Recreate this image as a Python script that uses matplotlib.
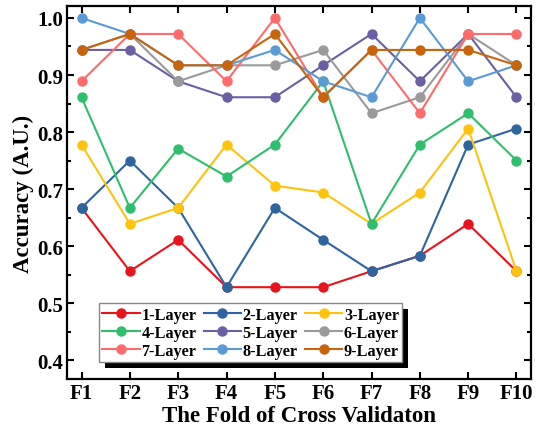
import matplotlib
matplotlib.use("Agg")
import matplotlib.pyplot as plt
from matplotlib.patches import Rectangle
from matplotlib.ticker import MultipleLocator, FormatStrFormatter

folds = ["F1", "F2", "F3", "F4", "F5", "F6", "F7", "F8", "F9", "F10"]
labels = ["1-Layer", "2-Layer", "3-Layer", "4-Layer", "5-Layer",
          "6-Layer", "7-Layer", "8-Layer", "9-Layer"]
layer1 = [0.667, 0.556, 0.611, 0.528, 0.528, 0.528, 0.556, 0.583, 0.639, 0.556]
layer2 = [0.667, 0.750, 0.667, 0.528, 0.667, 0.611, 0.556, 0.583, 0.778, 0.806]
layer3 = [0.778, 0.639, 0.667, 0.778, 0.706, 0.694, 0.639, 0.694, 0.806, 0.556]
layer4 = [0.861, 0.667, 0.771, 0.722, 0.778, 0.889, 0.639, 0.778, 0.833, 0.750]
layer5 = [0.944, 0.944, 0.889, 0.861, 0.861, 0.917, 0.972, 0.889, 0.972, 0.861]
layer6 = [0.944, 0.972, 0.889, 0.917, 0.917, 0.944, 0.833, 0.861, 0.972, 0.917]
layer7 = [0.889, 0.972, 0.972, 0.889, 1.000, 0.861, 0.944, 0.833, 0.972, 0.972]
layer8 = [1.000, 0.972, 0.917, 0.917, 0.944, 0.889, 0.861, 1.000, 0.889, 0.917]
layer9 = [0.944, 0.972, 0.917, 0.917, 0.972, 0.861, 0.944, 0.944, 0.944, 0.917]
series = [layer1, layer2, layer3, layer4, layer5, layer6, layer7, layer8, layer9]
colors = ["#e8141c", "#2e64a0", "#ffc20e", "#2fbf6c", "#6a5fa3",
          "#9a9a9a", "#ff6b6b", "#5b9bd5", "#c8640c"]

plt.rcParams["font.family"] = ["Liberation Serif"]
plt.rcParams["font.weight"] = "bold"

fig = plt.figure(figsize=(5.41, 4.27), dpi=100)
ax = fig.add_axes([67 / 541, 1 - 380 / 427, 464 / 541, 373 / 427])

x = list(range(1, len(folds) + 1))
handles = []
for vals, lab, c in zip(series, labels, colors):
    h, = ax.plot(x, vals, "-o", color=c, lw=1.5, ms=6.5, label=lab)
    handles.append(h)

ax.set_xlim(0.7, 10.3)
ax.set_ylim(0.367, 1.021)
ax.set_xticks(x)
ax.set_xticklabels(folds)
ax.yaxis.set_major_locator(MultipleLocator(0.1))
ax.yaxis.set_minor_locator(MultipleLocator(0.05))
ax.yaxis.set_major_formatter(FormatStrFormatter("%.1f"))
ax.tick_params(axis="both", which="major", direction="in", length=5, width=1.5,
               labelsize=15, top=True, right=True)
ax.tick_params(axis="x", which="major", pad=3)
ax.tick_params(axis="y", which="major", pad=3)
ax.tick_params(axis="y", which="minor", direction="in", length=3, width=1.5,
               right=True, left=True)
for s in ax.spines.values():
    s.set_linewidth(1.6)

ax.set_xlabel("The Fold of Cross Validaton", fontsize=16.5, fontweight="bold", labelpad=1)
ax.set_ylabel("Accuracy (A.U.)", fontsize=16.5, fontweight="bold", labelpad=2)

# row-wise ordering for a 3-column legend
order = [0, 3, 6, 1, 4, 7, 2, 5, 8]
leg = ax.legend([handles[i] for i in order], [labels[i] for i in order],
                ncol=3, loc="lower left", bbox_to_anchor=(0.069, 0.046),
                borderaxespad=0, fancybox=False, framealpha=1, edgecolor="#888888",
                prop={"family": "Liberation Serif", "weight": "bold", "size": 11.7},
                handlelength=2.3, handletextpad=0.1, columnspacing=0.45,
                labelspacing=0.12, borderpad=0.2)
leg.get_frame().set_linewidth(1.0)
leg.set_zorder(6)

fig.canvas.draw()
bb = leg.get_window_extent()
inv = fig.transFigure.inverted()
(x0, y0) = inv.transform((bb.x0 + 6, bb.y0 - 6))
(x1, y1) = inv.transform((bb.x1 + 6, bb.y1 - 6))
shadow = Rectangle((x0, y0), x1 - x0, y1 - y0, transform=fig.transFigure,
                   facecolor="black", edgecolor="none", zorder=5.5, clip_on=False)
ax.add_artist(shadow)

fig.savefig("out.png", dpi=100)
